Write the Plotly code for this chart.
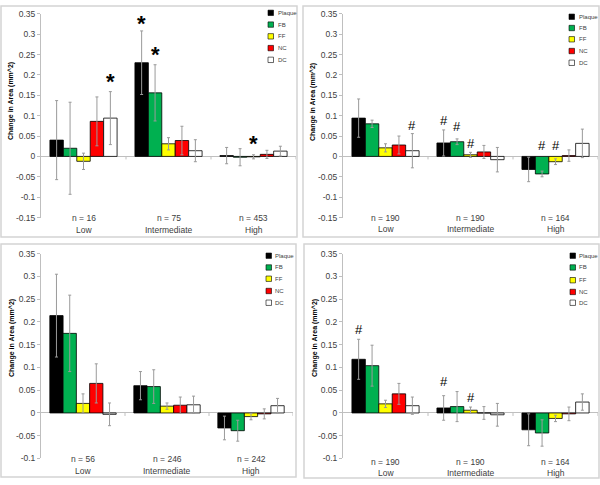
import plotly.graph_objects as go

# ---------------- data ----------------
series = ["Plaque", "FB", "FF", "NC", "DC"]
categories = ["Low", "Intermediate", "High"]

# Panel A (top-left)
a_n = ["n = 16", "n = 75", "n = 453"]
a_plaque = [0.040, 0.230, 0.002]
a_plaque_err = [0.097, 0.078, 0.020]
a_fb = [0.020, 0.156, -0.002]
a_fb_err = [0.113, 0.069, 0.021]
a_ff = [-0.012, 0.031, -0.001]
a_ff_err = [0.020, 0.015, 0.005]
a_nc = [0.086, 0.039, 0.005]
a_nc_err = [0.060, 0.035, 0.010]
a_dc = [0.094, 0.014, 0.013]
a_dc_err = [0.065, 0.027, 0.012]
a_marks = [(0, 4, "*", 0.178), (1, 0, "*", 0.322), (1, 1, "*", 0.245), (2, 2, "*", 0.026)]
a_yticks = [-0.15, -0.1, -0.05, 0, 0.05, 0.1, 0.15, 0.2, 0.25, 0.3, 0.35]

# Panel B (top-right)
b_n = ["n = 190", "n = 190", "n = 164"]
b_plaque = [0.094, 0.033, -0.032]
b_plaque_err = [0.047, 0.032, 0.030]
b_fb = [0.080, 0.036, -0.043]
b_fb_err = [0.009, 0.007, 0.007]
b_ff = [0.021, 0.004, -0.013]
b_ff_err = [0.010, 0.006, 0.007]
b_nc = [0.028, 0.011, 0.002]
b_nc_err = [0.022, 0.016, 0.014]
b_dc = [0.014, -0.008, 0.032]
b_dc_err = [0.042, 0.030, 0.035]
b_marks = [(0, 4, "#", 0.074), (1, 0, "#", 0.086), (1, 1, "#", 0.071), (1, 2, "#", 0.030),
           (2, 1, "#", 0.024), (2, 2, "#", 0.024)]
b_yticks = [-0.15, -0.1, -0.05, 0, 0.05, 0.1, 0.15, 0.2, 0.25, 0.3, 0.35]

# Panel C (bottom-left)
c_n = ["n = 56", "n = 246", "n = 242"]
c_plaque = [0.214, 0.060, -0.033]
c_plaque_err = [0.091, 0.031, 0.026]
c_fb = [0.175, 0.058, -0.039]
c_fb_err = [0.084, 0.037, 0.023]
c_ff = [0.021, 0.015, -0.008]
c_ff_err = [0.021, 0.007, 0.007]
c_nc = [0.065, 0.017, -0.002]
c_nc_err = [0.043, 0.018, 0.011]
c_dc = [-0.003, 0.018, 0.016]
c_dc_err = [0.025, 0.019, 0.016]
c_marks = []
c_yticks = [-0.1, -0.05, 0, 0.05, 0.1, 0.15, 0.2, 0.25, 0.3, 0.35]

# Panel D (bottom-right)
d_n = ["n = 190", "n = 190", "n = 164"]
d_plaque = [0.118, 0.011, -0.037]
d_plaque_err = [0.044, 0.027, 0.035]
d_fb = [0.104, 0.014, -0.044]
d_fb_err = [0.045, 0.033, 0.029]
d_ff = [0.020, 0.006, -0.012]
d_ff_err = [0.008, 0.007, 0.007]
d_nc = [0.042, 0.000, -0.002]
d_nc_err = [0.023, 0.014, 0.015]
d_dc = [0.016, -0.004, 0.024]
d_dc_err = [0.019, 0.025, 0.018]
d_marks = [(0, 0, "#", 0.181), (1, 0, "#", 0.066), (1, 2, "#", 0.032)]
d_yticks = [-0.1, -0.05, 0, 0.05, 0.1, 0.15, 0.2, 0.25, 0.3, 0.35]

y_title = "Change in Area (mm^2)"

# ---------------- styling / layout ----------------
W, H = 600, 485
fills = ["#000000", "#00b050", "#ffff00", "#ff0000", "#ffffff"]
BARGAP = 0.21
FONT = "Liberation Sans, Arial, sans-serif"
TXT = "#404040"
AX = "#bfbfbf"


def fx(px):
    return px / W


def fy(py):
    return 1 - py / H


panels = [
    dict(n=a_n, means=[a_plaque, a_fb, a_ff, a_nc, a_dc],
         errs=[a_plaque_err, a_fb_err, a_ff_err, a_nc_err, a_dc_err],
         marks=a_marks, yticks=a_yticks, xpx=(41, 296), ypx=(9, 217),
         box=(1, 1, 297, 237), leg=(268, 276, [8, 20, 32, 44, 56]),
         lab=(217, 230), title=(11, 98)),
    dict(n=b_n, means=[b_plaque, b_fb, b_ff, b_nc, b_dc],
         errs=[b_plaque_err, b_fb_err, b_ff_err, b_nc_err, b_dc_err],
         marks=b_marks, yticks=b_yticks, xpx=(343, 598), ypx=(9, 217),
         box=(303, 1, 599, 237), leg=(569, 577, [12, 23.5, 35, 47, 59]),
         lab=(217, 229), title=(313, 99)),
    dict(n=c_n, means=[c_plaque, c_fb, c_ff, c_nc, c_dc],
         errs=[c_plaque_err, c_fb_err, c_ff_err, c_nc_err, c_dc_err],
         marks=c_marks, yticks=c_yticks, xpx=(41, 293), ypx=(254, 463),
         box=(1, 244, 296, 482), leg=(266, 273, [256, 268, 279.5, 292, 304]),
         lab=(464, 476), title=(12, 340)),
    dict(n=d_n, means=[d_plaque, d_fb, d_ff, d_nc, d_dc],
         errs=[d_plaque_err, d_fb_err, d_ff_err, d_nc_err, d_dc_err],
         marks=d_marks, yticks=d_yticks, xpx=(343, 598), ypx=(254, 463),
         box=(304, 244, 599, 483), leg=(570, 577, [256, 268, 281, 293, 304]),
         lab=(467, 478), title=(315, 340)),
]

fig = go.Figure()
layout = dict(width=W, height=H, autosize=False,
              margin=dict(l=0, r=0, t=0, b=0),
              paper_bgcolor="white", plot_bgcolor="rgba(0,0,0,0)",
              barmode="group", bargap=BARGAP, bargroupgap=0,
              showlegend=False, font=dict(family=FONT, color=TXT))
shapes = []
annotations = []
xpos = list(range(len(categories)))
gw = 1 - BARGAP
bw = gw / len(series)

for k, p in enumerate(panels):
    sfx = "" if k == 0 else str(k + 1)
    xa, ya = "x" + sfx, "y" + sfx
    for i, name in enumerate(series):
        fig.add_trace(go.Bar(
            x=xpos, y=p["means"][i], name=name, xaxis=xa, yaxis=ya,
            marker=dict(color=fills[i], line=dict(color="#000000", width=0.8)),
            error_y=dict(type="data", array=p["errs"][i], color="#9a9a9a",
                         thickness=1, width=1.5),
            hoverinfo="skip"))
    yt = p["yticks"]
    layout["xaxis" + sfx] = dict(domain=[fx(p["xpx"][0]), fx(p["xpx"][1])],
                                 range=[-0.5, len(categories) - 0.5], anchor=ya,
                                 showticklabels=False, showgrid=False, zeroline=False,
                                 showline=False, ticks="", fixedrange=True)
    layout["yaxis" + sfx] = dict(domain=[fy(p["ypx"][1]), fy(p["ypx"][0])],
                                 range=[yt[0], yt[-1]], anchor=xa,
                                 tickvals=yt, ticktext=[f"{v:g}" for v in yt],
                                 tickfont=dict(size=8.5, color=TXT, family=FONT),
                                 showline=True, linecolor=AX, linewidth=1,
                                 ticks="outside", ticklen=3, tickcolor=AX, tickwidth=1,
                                 showgrid=False, zeroline=True, zerolinecolor=AX,
                                 zerolinewidth=1, fixedrange=True)
    # category tick marks on the zero line
    for b in [0.5, 1.5, 2.5]:
        shapes.append(dict(type="line", xref=xa, yref=ya, x0=b, x1=b,
                           ysizemode="pixel", yanchor=0, y0=0, y1=-3,
                           line=dict(color=AX, width=1)))
    # panel border
    x0, y0, x1, y1 = p["box"]
    shapes.append(dict(type="rect", xref="paper", yref="paper",
                       x0=fx(x0), x1=fx(x1), y0=fy(y1), y1=fy(y0),
                       line=dict(color="#d4d4d4", width=1.5), layer="below"))
    # legend
    sx, tx, rows = p["leg"]
    for i, name in enumerate(series):
        ry = rows[i]
        shapes.append(dict(type="rect", xref="paper", yref="paper",
                           x0=fx(sx), x1=fx(sx + 5.5), y0=fy(ry + 2.75), y1=fy(ry - 2.75),
                           fillcolor=fills[i], line=dict(color="#000000", width=0.6)))
        annotations.append(dict(x=fx(tx), y=fy(ry), xref="paper", yref="paper",
                                text=name, showarrow=False, xanchor="left",
                                yanchor="middle", font=dict(size=6, color=TXT, family=FONT)))
    # category labels
    ly1, ly2 = p["lab"]
    for ci, cat in enumerate(categories):
        annotations.append(dict(x=xpos[ci], y=fy(ly1), xref=xa, yref="paper",
                                text=p["n"][ci], showarrow=False, xanchor="center",
                                yanchor="middle", font=dict(size=8.5, color=TXT, family=FONT)))
        annotations.append(dict(x=xpos[ci], y=fy(ly2), xref=xa, yref="paper",
                                text=cat, showarrow=False, xanchor="center",
                                yanchor="middle", font=dict(size=8.5, color=TXT, family=FONT)))
    # y title
    tx_, ty_ = p["title"]
    annotations.append(dict(x=fx(tx_), y=fy(ty_), xref="paper", yref="paper",
                            text="<b>" + y_title + "</b>", textangle=-90, showarrow=False,
                            xanchor="center", yanchor="middle",
                            font=dict(size=7, color="#000000", family=FONT)))
    # significance marks
    for ci, si, sym, yv in p["marks"]:
        xc = xpos[ci] - gw / 2 + (si + 0.5) * bw
        if sym == "*":
            annotations.append(dict(x=xc, y=yv, xref=xa, yref=ya, text="<b>*</b>",
                                    showarrow=False, xanchor="center", yanchor="middle",
                                    yshift=2, font=dict(size=22, color="#000000", family=FONT)))
        else:
            annotations.append(dict(x=xc, y=yv, xref=xa, yref=ya, text="#",
                                    showarrow=False, xanchor="center", yanchor="middle",
                                    yshift=1, font=dict(size=13, color="#000000", family=FONT)))

layout["shapes"] = shapes
layout["annotations"] = annotations
fig.update_layout(**layout)
fig.write_html(
    "out.html",
    config={"displayModeBar": False},
    post_script=("document.body.style.margin='0';"
                 "document.body.style.overflow='hidden';"
                 "document.documentElement.style.overflow='hidden';"),
)
